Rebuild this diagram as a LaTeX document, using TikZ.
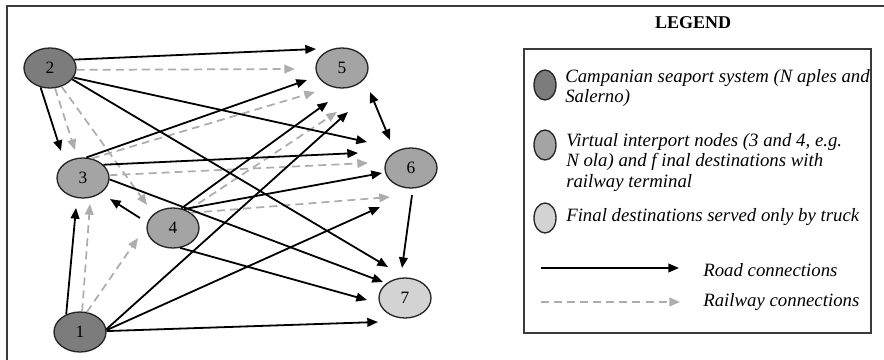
\documentclass[tikz,border=0pt]{standalone}
\usepackage{fontspec}
\setmainfont{Liberation Serif}
\usetikzlibrary{shapes.geometric,arrows.meta}
\definecolor{portfill}{HTML}{7C7C7C}
\definecolor{hubfill}{HTML}{A4A4A4}
\definecolor{truckfill}{HTML}{D3D3D3}
\definecolor{railgray}{HTML}{ADADAD}
\definecolor{framegray}{HTML}{3A3A3A}
\begin{document}
\begin{tikzpicture}[x=0.75pt,y=-0.75pt,
  place/.style={ellipse,draw=black!85,line width=1pt,minimum width=39pt,
    minimum height=30pt,inner sep=0pt,font=\fontsize{13pt}{15pt}\selectfont},
  keymark/.style={ellipse,draw=black!85,line width=1pt,minimum width=16.5pt,
    minimum height=22.5pt,inner sep=0pt},
  tip/.style={arrows={-Triangle[length=8pt,width=6.5pt]}},
  road/.style={line width=1.35pt,draw=black,tip},
  rail/.style={line width=1.3pt,draw=railgray,dash pattern=on 6pt off 3.8pt,tip},
  twoway/.style={line width=1.35pt,draw=black,
    arrows={Triangle[length=8pt,width=6.5pt]-Triangle[length=8pt,width=6.5pt]}},
  keytext/.style={anchor=base west,inner sep=0pt,
    font=\itshape\fontsize{14.1pt}{16pt}\selectfont},
]
\useasboundingbox (0,0) rectangle (884,360);

% outer frame (top and left edges)
\draw[framegray,line width=1.2pt] (884,6) -- (7,6) -- (7,360);

% network nodes
\node[place,fill=portfill]  (n2) at (50,68)   {2};
\node[place,fill=hubfill]   (n5) at (342,68)  {5};
\node[place,fill=hubfill]   (n3) at (83,178)  {3};
\node[place,fill=hubfill]   (n6) at (411,168) {6};
\node[place,fill=hubfill]   (n4) at (173,228) {4};
\node[place,fill=truckfill] (n7) at (405,298) {7};
\node[place,fill=portfill]  (n1) at (80,332)  {1};

% railway connections
\draw[rail] (n2.-4)  -- ([shift={(-47,1)}]n5.center);
\draw[rail] (n2.-76) -- ([shift={(-8,-28)}]n3.center);
\draw[rail] (n2.-58) -- ([shift={(-26,-23)}]n4.center);
\draw[rail] (n3.66)  -- ([shift={(-27,24)}]n5.center);
\draw[rail] (n3.6)   -- ([shift={(-43,-5)}]n6.center);
\draw[rail] (n4.50)  -- ([shift={(-5,44)}]n5.center);
\draw[rail] (n4.40)  -- ([shift={(-21,29)}]n6.center);
\draw[rail] (n1.84)  -- ([shift={(7,26)}]n3.center);
\draw[rail] (n1.71)  -- ([shift={(-35,10)}]n4.center);

% road connections
\draw[road] (n2.19)  -- ([shift={(-26,-19)}]n5.center);
\draw[road] (n2.-22) -- ([shift={(-44,-26)}]n6.center);
\draw[road] (n2.-27) -- ([shift={(-17,-31)}]n7.center);
\draw[road] (n2.244) -- ([shift={(-22,-27)}]n3.center);
\draw[road] (n3.81)  -- ([shift={(-35,12)}]n5.center);
\draw[road] (n3.33)  -- ([shift={(-53,-15)}]n6.center);
\draw[road] (n3.-3)  -- ([shift={(-22,-16)}]n7.center);
\draw[road] ([shift={(-33,-10)}]n4.center) -- ([shift={(27,21)}]n3.center);
\draw[road] (n4.67)  -- ([shift={(-14,34)}]n5.center);
\draw[road] (n4.60)  -- ([shift={(-29,5)}]n6.center);
\draw[road] (n4.-70) -- ([shift={(-38,2)}]n7.center);
\draw[road] (n1.128) -- ([shift={(-7,30)}]n3.center);
\draw[road] (n1.6)   -- ([shift={(6,44)}]n5.center);
\draw[road] (n1.4)   -- ([shift={(-31,39)}]n6.center);
\draw[road] (n1.2)   -- ([shift={(-27,24)}]n7.center);
\draw[twoway] ([shift={(28,24)}]n5.center) -- ([shift={(-21,-28)}]n6.center);
\draw[road] ([shift={(1,27)}]n6.center) -- ([shift={(-3,-30)}]n7.center);

% legend
\node[anchor=base,inner sep=0pt,font=\bfseries\fontsize{13.5pt}{15pt}\selectfont]
  (legendtitle) at (693,29) {LEGEND};
\draw[framegray,line width=1.2pt] (524,49) rectangle (871,333);

\node[keymark,fill=portfill]  (k1) at (545,85)  {};
\node[keymark,fill=hubfill]   (k2) at (545,145) {};
\node[keymark,fill=truckfill] (k3) at (545,218) {};

\node[keytext] (t1a) at (565,83)    {Campanian seaport system (N aples and};
\node[keytext] (t1b) at (565,102.5) {Salerno)};
\node[keytext] (t2a) at (566,146.5) {Virtual interport nodes (3 and 4, e.g.};
\node[keytext] (t2b) at (566,166.5) {N ola) and f inal destinations with};
\node[keytext] (t2c) at (566,187.5) {railway terminal};
\node[keytext] (t3a) at (566,221.5) {Final destinations served only by truck};

\coordinate (roadA) at (541,268);
\coordinate (roadB) at (679,268);
\coordinate (railA) at (541,302);
\coordinate (railB) at (680,302);
\draw[road] (roadA) -- (roadB);
\draw[rail] (railA) -- (railB);
\node[keytext] (t4) at (703,276) {Road connections};
\node[keytext] (t5) at (703,306) {Railway connections};
\end{tikzpicture}
\end{document}
